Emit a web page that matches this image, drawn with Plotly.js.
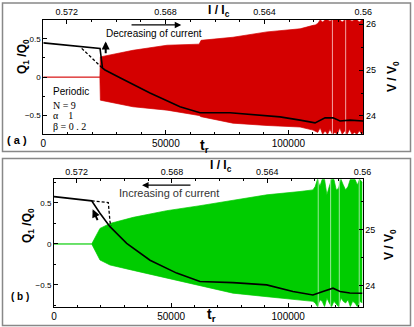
<!DOCTYPE html>
<html>
<head>
<meta charset="utf-8">
<script src="https://cdn.plot.ly/plotly-3.0.1.min.js"></script>
<style>
  html, body { margin: 0; padding: 0; background: #fff; }
  #chart { width: 414px; height: 327px; }
</style>
</head>
<body>
<div id="chart"></div>
<script>
// ---- panel (a): red band (Q1/Q0 oscillation envelope) ----
const aBandT  = [0, 23100, 23300, 36600, 50500, 63600, 64400, 77400, 91300, 104800, 110100,
                 111000, 112000, 113000, 114000, 115000, 116000, 117000, 118000, 119000, 120000,
                 121000, 122000, 123000, 124000, 125000, 126000, 127000, 128000, 129000, 130000, 130600];
const aBandHi = [0, 0, 0.264, 0.35, 0.416, 0.43, 0.48, 0.52, 0.59, 0.63, 0.675,
                 0.68, 0.70, 0.745, 0.72, 0.745, 0.745, 0.73, 0.745, 0.745, 0.74,
                 0.745, 0.72, 0.745, 0.745, 0.745, 0.73, 0.745, 0.745, 0.72, 0.745, 0.745];
const aBandLo = [0, 0, -0.30, -0.386, -0.43, -0.50, -0.515, -0.60, -0.63, -0.65, -0.69,
                 -0.70, -0.72, -0.66, -0.745, -0.70, -0.745, -0.68, -0.745, -0.72, -0.745,
                 -0.66, -0.745, -0.70, -0.745, -0.68, -0.745, -0.72, -0.745, -0.70, -0.745, -0.72];
const aGapT = [118000, 123400];

// panel (a): voltage curve V/V0
const aVT = [0, 23150, 24170, 25190, 31300, 43550, 55800, 63970, 76200, 88500, 96600,
             104800, 110900, 115000, 118250, 121100, 125200, 130500];
const aV  = [25.59, 25.47, 25.04, 25.0, 24.83, 24.5, 24.2, 24.07, 24.07, 24.02, 23.98,
             23.91, 23.85, 23.96, 23.96, 23.89, 23.91, 23.89];
const aDashT = [15670, 23150, 24170];
const aDashV = [25.47, 25.09, 25.04];

// ---- panel (b): green band ----
const bBandT  = [0, 16090, 19630, 23900, 33850, 48100, 62310, 76400, 90900, 105000, 110540,
                 111500, 112500, 113500, 114500, 115500, 116500, 117500, 118500, 119500, 120500,
                 121500, 122500, 123500, 124500, 125500, 126500, 127500, 128500, 129500, 130500, 131700];
const bBandHi = [0, 0, 0.19, 0.25, 0.325, 0.406, 0.467, 0.537, 0.60, 0.64, 0.66,
                 0.70, 0.789, 0.70, 0.789, 0.789, 0.60, 0.70, 0.789, 0.789, 0.66,
                 0.68, 0.789, 0.72, 0.66, 0.70, 0.789, 0.789, 0.789, 0.72, 0.789, 0.75];
const bBandLo = [0, 0, -0.195, -0.256, -0.322, -0.417, -0.512, -0.60, -0.643, -0.683, -0.70,
                 -0.72, -0.765, -0.68, -0.70, -0.765, -0.66, -0.72, -0.765, -0.70, -0.74,
                 -0.765, -0.66, -0.70, -0.72, -0.68, -0.765, -0.70, -0.72, -0.765, -0.70, -0.72];
const bGapT = [112800, 118100, 121800, 130300];

// panel (b): voltage curve V/V0
const bVT = [0, 16090, 19630, 23900, 31030, 40990, 52370, 62310, 76400, 90780, 102000,
             110540, 114800, 119100, 122100, 126300, 131700];
const bV  = [25.595, 25.52, 25.30, 25.06, 24.76, 24.46, 24.23, 24.08, 24.06, 24.02, 23.9,
             23.84, 23.9, 23.96, 23.9, 23.875, 23.87];
const bDashT = [16090, 23180, 23900, 24330];
const bDashV = [25.52, 25.49, 25.15, 25.07];

// top axis (I / Ic) tick values, shared by both panels
const currentTicks = [0.572, 0.568, 0.564, 0.56];

const RED = '#d40000', PINK = '#f2a3a3';
const GREEN = '#00cc00', LGREEN = '#9ae89a';

// helpers: pixel -> paper (margins are zero)
const W = 414, H = 327;
const px = x => x / W;
const py = y => 1 - y / H;

function gapLines(ts, lo, hi) {
    const xs = [], ys = [];
    ts.forEach(t => { xs.push(t, t, null); ys.push(lo, hi, null); });
    return { xs, ys };
}

const aGap = gapLines(aGapT, -0.745, 0.745);
const bGap = gapLines(bGapT, -0.765, 0.789);
const noY = currentTicks.map(() => null);

const traces = [
    // (a)
    { x: aBandT, y: aBandLo, xaxis: 'x', yaxis: 'y', mode: 'lines',
      line: { color: RED, width: 0.7 }, hoverinfo: 'skip' },
    { x: aBandT, y: aBandHi, xaxis: 'x', yaxis: 'y', mode: 'lines', fill: 'tonexty',
      fillcolor: RED, line: { color: RED, width: 0.7 }, hoverinfo: 'skip' },
    { x: aGap.xs, y: aGap.ys, xaxis: 'x', yaxis: 'y', mode: 'lines',
      line: { color: PINK, width: 1 }, hoverinfo: 'skip' },
    { x: currentTicks, y: noY, xaxis: 'x2', yaxis: 'y', mode: 'lines', hoverinfo: 'skip' },
    { x: aDashT, y: aDashV, xaxis: 'x', yaxis: 'y2', mode: 'lines',
      line: { color: '#000', width: 1.3, dash: '3px,2px' } },
    { x: aVT, y: aV, xaxis: 'x', yaxis: 'y2', mode: 'lines',
      line: { color: '#000', width: 1.6 } },
    // (b)
    { x: bBandT, y: bBandLo, xaxis: 'x3', yaxis: 'y3', mode: 'lines',
      line: { color: GREEN, width: 0.7 }, hoverinfo: 'skip' },
    { x: bBandT, y: bBandHi, xaxis: 'x3', yaxis: 'y3', mode: 'lines', fill: 'tonexty',
      fillcolor: GREEN, line: { color: GREEN, width: 0.7 }, hoverinfo: 'skip' },
    { x: bGap.xs, y: bGap.ys, xaxis: 'x3', yaxis: 'y3', mode: 'lines',
      line: { color: LGREEN, width: 1 }, hoverinfo: 'skip' },
    { x: currentTicks, y: noY, xaxis: 'x4', yaxis: 'y3', mode: 'lines', hoverinfo: 'skip' },
    { x: bDashT, y: bDashV, xaxis: 'x3', yaxis: 'y4', mode: 'lines',
      line: { color: '#000', width: 1.3, dash: '3px,2px' } },
    { x: bVT, y: bV, xaxis: 'x3', yaxis: 'y4', mode: 'lines',
      line: { color: '#000', width: 1.6 } }
];

const TICKFONT = { family: 'Liberation Sans, Arial, sans-serif', color: '#000' };
function ax(extra) {
    return Object.assign({
        showline: true, linecolor: '#000', linewidth: 1,
        ticks: 'inside', ticklen: 4, tickcolor: '#000',
        showgrid: false, zeroline: false, fixedrange: true
    }, extra);
}
const tf = size => Object.assign({ size }, TICKFONT);
const minor = dtick => ({ ticks: 'inside', dtick, ticklen: 2, tickcolor: '#000' });

const xA = [px(43.3), px(363.3)], yA = [py(134.3), py(20)];
const xB = [px(54), px(362.5)], yB = [py(306.7), py(179.3)];

const layout = {
    width: W, height: H,
    margin: { l: 0, r: 0, t: 0, b: 0 },
    paper_bgcolor: '#fff', plot_bgcolor: '#fff',
    showlegend: false,
    font: { family: 'Liberation Sans, Arial, sans-serif', color: '#000' },
    xaxis: ax({ domain: xA, anchor: 'y', range: [0, 130600], dtick: 50000, tick0: 0,
        tickformat: 'd', tickfont: tf(10), minor: minor(10000) }),
    xaxis2: ax({ overlaying: 'x', side: 'top', anchor: 'y', range: [0.57295, 0.56],
        tickvals: currentTicks, tickfont: tf(9), minor: minor(0.001) }),
    yaxis: ax({ domain: yA, anchor: 'x', range: [-0.745, 0.745], dtick: 0.5, tick0: 0,
        tickfont: tf(8), minor: minor(0.25) }),
    yaxis2: ax({ overlaying: 'y', side: 'right', anchor: 'x', range: [23.602, 26.087],
        dtick: 1, tick0: 24, tickfont: tf(9), minor: minor(0.5) }),
    xaxis3: ax({ domain: xB, anchor: 'y3', range: [0, 131700], dtick: 50000, tick0: 0,
        tickformat: 'd', tickfont: tf(10), minor: minor(10000) }),
    xaxis4: ax({ overlaying: 'x3', side: 'top', anchor: 'y3', range: [0.57295, 0.56],
        tickvals: currentTicks, tickfont: tf(9), minor: minor(0.001) }),
    yaxis3: ax({ domain: yB, anchor: 'x3', range: [-0.765, 0.789], dtick: 0.5, tick0: 0,
        tickfont: tf(8), minor: minor(0.25) }),
    yaxis4: ax({ overlaying: 'y3', side: 'right', anchor: 'x3', range: [23.63, 25.905],
        dtick: 1, tick0: 24, tickfont: tf(9), minor: minor(0.5) }),
    shapes: [
        { type: 'rect', xref: 'paper', yref: 'paper', x0: px(2.5), x1: px(410.5), y0: py(151.5), y1: py(3),
          line: { color: '#888', width: 1.5 } },
        { type: 'rect', xref: 'paper', yref: 'paper', x0: px(2.5), x1: px(410.5), y0: py(325.5), y1: py(158.5),
          line: { color: '#888', width: 1.5 } }
    ],
    annotations: []
};

const A = layout.annotations;
const SANS = 'Liberation Sans, Arial, sans-serif';
const SERIF = 'Liberation Serif, Times New Roman, serif';
function label(text, x, y, size, opts) {
    A.push(Object.assign({ text, x: px(x), y: py(y), xref: 'paper', yref: 'paper',
        xanchor: 'center', yanchor: 'middle', showarrow: false,
        font: { size, family: SANS, color: '#000' } }, opts || {}));
}

// axis titles
label('<b>Q<sub>1</sub> /Q<sub>0</sub></b>', 23, 57, 12, { textangle: -90 });
label('<b>t<sub>r</sub></b>', 204, 146, 14);
label('<b>I / I<sub>c</sub></b>', 219, 11, 12);
label('<b>V / V<sub>0</sub></b>', 393, 77, 12, { textangle: -90 });
label('<b>Q<sub>1</sub> /Q<sub>0</sub></b>', 28, 225, 12, { textangle: -90 });
label('<b>t<sub>r</sub></b>', 211, 315, 14);
label('<b>I / I<sub>c</sub></b>', 221, 166, 12);
label('<b>V / V<sub>0</sub></b>', 390, 245, 12, { textangle: -90 });
label('<b>( a )</b>', 17, 140, 11);
label('<b>( b )</b>', 20, 296, 10);

// parameter labels in (a)
label('Periodic', 51, 92, 10, { xanchor: 'left' });
label('N = 9', 51, 105, 10, { xanchor: 'left', font: { size: 10, family: SERIF, color: '#000' } });
label('α &nbsp; &nbsp;1', 51, 115.5, 10, { xanchor: 'left', font: { size: 10, family: SERIF, color: '#000' } });
label('β = 0 . 2', 51, 126, 10, { xanchor: 'left', font: { size: 10, family: SERIF, color: '#000' } });

// current direction labels and arrows
label('Decreasing of current', 154, 33, 10);
A.push({ x: 56300, y: 25.98, ax: 35400, ay: 25.98, xref: 'x', yref: 'y2', axref: 'x', ayref: 'y2',
    text: '', showarrow: true, arrowhead: 2, arrowsize: 1, arrowwidth: 1.3, arrowcolor: '#000' });
A.push({ x: 25470, y: 25.62, ax: 25470, ay: 25.33, xref: 'x', yref: 'y2', axref: 'x', ayref: 'y2',
    text: '', showarrow: true, arrowhead: 2, arrowsize: 0.8, arrowwidth: 2, arrowcolor: '#000' });

label('Increasing of current', 169, 193, 11, { font: { size: 11, family: SANS, color: '#333' } });
A.push({ x: 37600, y: 25.80, ax: 58900, ay: 25.80, xref: 'x3', yref: 'y4', axref: 'x3', ayref: 'y4',
    text: '', showarrow: true, arrowhead: 2, arrowsize: 1, arrowwidth: 1.3, arrowcolor: '#000' });
A.push({ x: 16500, y: 25.37, ax: 18900, ay: 25.15, xref: 'x3', yref: 'y4', axref: 'x3', ayref: 'y4',
    text: '', showarrow: true, arrowhead: 2, arrowsize: 0.8, arrowwidth: 2, arrowcolor: '#000' });

Plotly.newPlot('chart', traces, layout, { staticPlot: true, displayModeBar: false });
</script>
</body>
</html>
